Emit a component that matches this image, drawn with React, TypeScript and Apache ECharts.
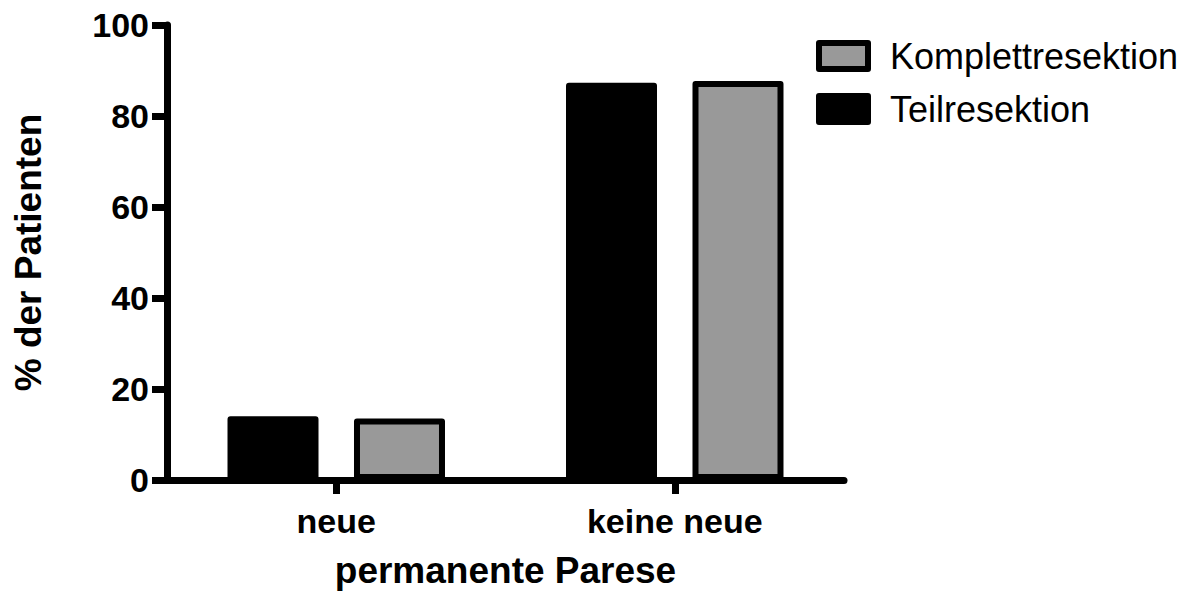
import React, { useEffect, useRef } from "react";
import * as echarts from "echarts";

const categories = ["neue", "keine neue"];
const teilresektion = [14.0, 87.3];
const komplettresektion = [13.5, 87.7];
const seriesNames = ["Teilresektion", "Komplettresektion"];
const legendOrder = ["Komplettresektion", "Teilresektion"];
const yAxisTitle = "% der Patienten";
const xAxisTitle = "permanente Parese";

const FONT = "'Liberation Sans', Arial, Helvetica, sans-serif";

export default function App() {
  const ref = useRef<HTMLDivElement>(null);

  useEffect(() => {
    if (!ref.current) return;
    const chart = echarts.init(ref.current, undefined, { renderer: "svg" });
    chart.setOption({
      animation: false,
      backgroundColor: "#ffffff",
      textStyle: { fontFamily: FONT },
      grid: {
        left: 167,
        right: 354,
        top: 25,
        bottom: 111,
        containLabel: false,
        outerBoundsMode: "none",
      },
      legend: {
        data: legendOrder,
        orient: "vertical",
        left: 816,
        top: 38,
        padding: 0,
        itemWidth: 49,
        itemHeight: 26,
        itemGap: 17,
        icon: "rect",
        selectedMode: false,
        itemStyle: { borderWidth: 6, borderColor: "#000000" },
        textStyle: {
          fontFamily: FONT,
          fontSize: 36,
          color: "#000000",
          padding: [0, 0, 0, 17],
        },
      },
      xAxis: {
        type: "category",
        data: categories,
        name: xAxisTitle,
        nameLocation: "middle",
        nameGap: 72,
        nameTextStyle: { fontFamily: FONT, fontSize: 37, fontWeight: "bold", color: "#000" },
        axisLine: { show: true, lineStyle: { color: "#000", width: 7 } },
        axisTick: { show: true, alignWithLabel: true, inside: false, length: 14, lineStyle: { color: "#000", width: 7 } },
        axisLabel: { fontFamily: FONT, fontSize: 34, fontWeight: "bold", color: "#000", margin: 24 },
        splitLine: { show: false },
      },
      yAxis: {
        type: "value",
        min: 0,
        max: 100,
        interval: 20,
        name: yAxisTitle,
        nameLocation: "middle",
        nameGap: 120,
        nameTextStyle: { fontFamily: FONT, fontSize: 37, fontWeight: "bold", color: "#000" },
        axisLine: { show: true, lineStyle: { color: "#000", width: 7 } },
        axisTick: { show: true, length: 15, lineStyle: { color: "#000", width: 7 } },
        axisLabel: { fontFamily: FONT, fontSize: 34, fontWeight: "bold", color: "#000", margin: 18 },
        splitLine: { show: false },
      },
      series: [
        {
          name: seriesNames[0],
          type: "bar",
          data: teilresektion,
          barWidth: 91,
          barGap: "39%",
          itemStyle: { color: "#000000", borderColor: "#000000", borderWidth: 6, borderJoin: "round" },
        },
        {
          name: seriesNames[1],
          type: "bar",
          data: komplettresektion,
          barWidth: 91,
          barGap: "39%",
          itemStyle: { color: "#999999", borderColor: "#000000", borderWidth: 6, borderJoin: "round" },
        },
      ],
    });
    return () => chart.dispose();
  }, []);

  return (
    <div
      ref={ref}
      style={{ position: "fixed", left: 0, top: 0, width: 1198, height: 591, background: "#fff" }}
    />
  );
}
